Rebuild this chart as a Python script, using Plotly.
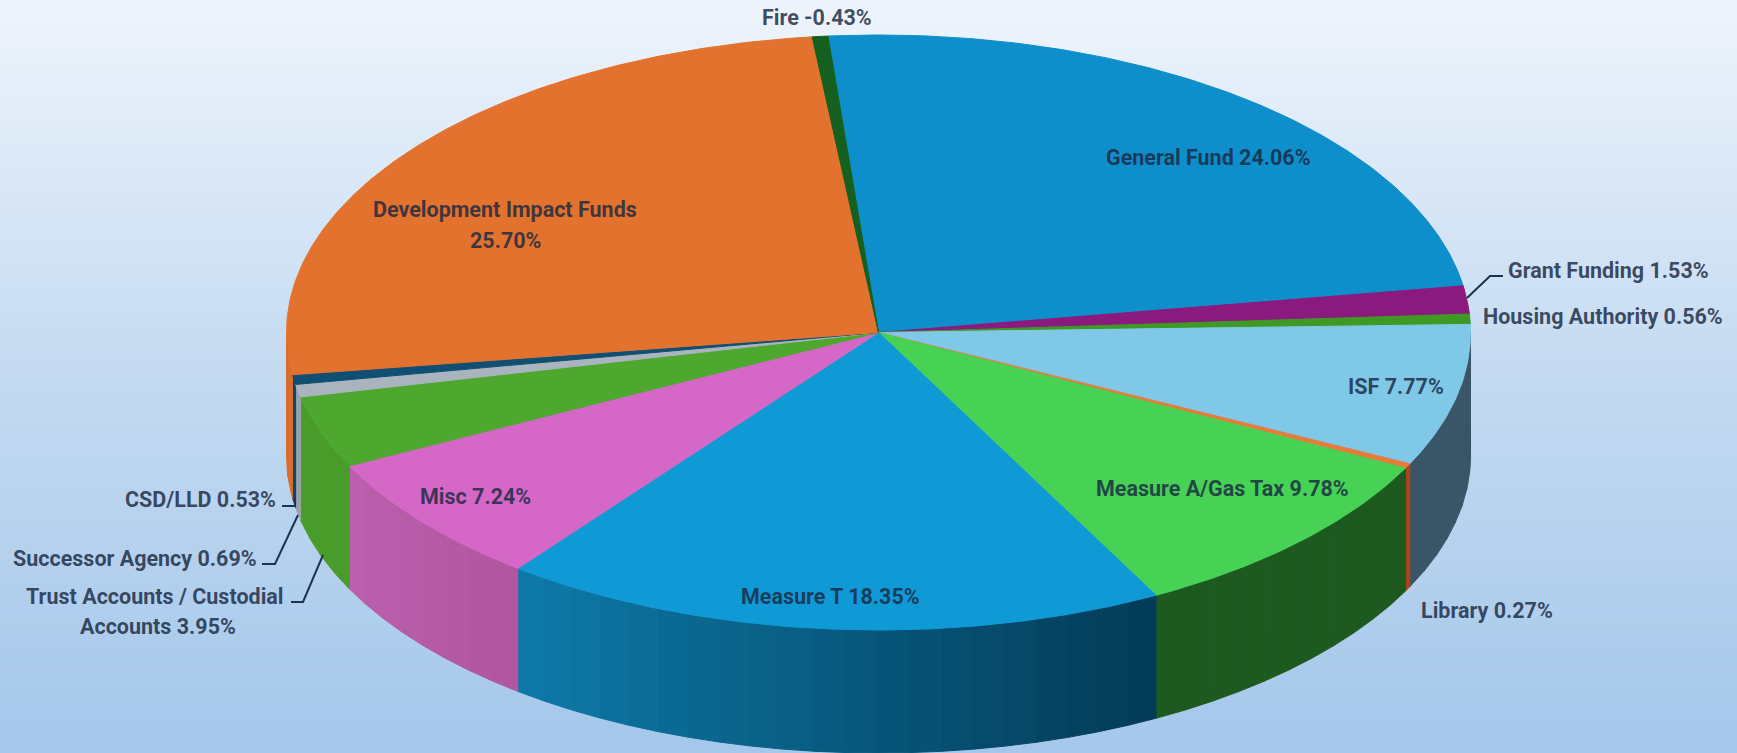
#!/usr/bin/env python3
"""
Fund share pie drawn as a tilted 3D disc with Plotly
"""

import numpy as np
import plotly.graph_objects as go

# Data, clockwise from the top of the pie
funds = ['General Fund', 'Grant Funding', 'Housing Authority', 'ISF', 'Library',
         'Measure A/Gas Tax', 'Measure T', 'Misc',
         'Trust Accounts / Custodial Accounts', 'Successor Agency', 'CSD/LLD',
         'Development Impact Funds', 'Fire']
shares = [24.06, 1.53, 0.56, 7.77, 0.27, 9.78, 18.35, 7.24, 3.95, 0.69, 0.53, 25.70, -0.43]

# Styles
top_colors = ['#0E8FCB', '#8A1A7E', '#3F9A25', '#7FC8E8', '#E57C3A', '#47D155', '#0F9AD6',
              '#D568C6', '#4EA72E', '#A9B4BF', '#114F72', '#E3722F', '#15601F']
wall_left = ['#0E8FCB', '#8A1A7E', '#3F9A25', '#3A5568', '#A8451A', '#1E5A20', '#0E7BAB',
             '#BC60AF', '#4A9C2A', '#98A3AE', '#0F4566', '#D96C2C', '#15601F']
wall_right = ['#0E8FCB', '#8A1A7E', '#3F9A25', '#3A5568', '#A8451A', '#1E5A20', '#033A55',
              '#B0569F', '#4A9C2A', '#98A3AE', '#0F4566', '#D96C2C', '#15601F']
bg_stops = [[0.0, '#EEF4FB'], [0.5, '#C4DAF1'], [1.0, '#A4C7EA']]
text_color = 'rgba(25,40,65,0.82)'
label_font = dict(family='Roboto', size=21.5, weight=700, color=text_color)

# Pie geometry, in screen pixels
width, height = 1737, 753
cx, cy = 878.5, 332.5
rx, ry = 592, 297.5
depth = 123
start_angle = -4.9

# Text placement, one entry per text line
label_lines = ['General Fund 24.06%', 'Grant Funding 1.53%', 'Housing Authority 0.56%', 'ISF 7.77%',
               'Library 0.27%', 'Measure A/Gas Tax 9.78%', 'Measure T 18.35%', 'Misc 7.24%',
               'Trust Accounts / Custodial', 'Accounts 3.95%', 'Successor Agency 0.69%',
               'CSD/LLD 0.53%', 'Development Impact Funds', '25.70%', 'Fire -0.43%']
label_x = [1208, 1608, 1603, 1396, 1487, 1222, 830, 475, 155, 158, 135, 200, 505, 505, 817]
label_y = [157, 270, 316, 386, 610, 488, 596, 496, 596, 626, 558, 499, 209, 240, 17]

# Leader lines
leaders = [
    ([1503, 1490, 1467], [276, 276, 298]),
    ([282, 295, 295], [506, 506, 498]),
    ([262, 275, 298], [564, 564, 515]),
    ([291, 303, 323], [602, 602, 555]),
]


def rim(angle):
    """Point on the top rim, angle in degrees clockwise from the top"""
    rad = np.radians(angle)
    return cx + rx * np.sin(rad), cy - ry * np.cos(rad)


def blend(c1, c2, t):
    a = np.array([int(c1[i:i + 2], 16) for i in (1, 3, 5)])
    b = np.array([int(c2[i:i + 2], 16) for i in (1, 3, 5)])
    r, g, b2 = (a + (b - a) * t).round().astype(int)
    return f'rgb({r},{g},{b2})'


def add_polygon(fig, xs, ys, color):
    fig.add_trace(go.Scatter(x=xs, y=ys, mode='lines', fill='toself', fillcolor=color,
                             line=dict(color=color, width=1), hoverinfo='skip',
                             showlegend=False))


fig = go.Figure()

# Background gradient
fig.add_trace(go.Heatmap(x=[0, width], y=[0, height], z=[[0, 0], [1, 1]], colorscale=bg_stops,
                         zsmooth='best', showscale=False, hoverinfo='skip'))

# Slice angles come from the absolute values, like a spreadsheet pie
sizes = np.abs(shares) / np.abs(shares).sum() * 360
ends = start_angle + np.cumsum(sizes)
starts = ends - sizes

# Front wall, strips for each slice
for i in range(len(funds)):
    a0, a1 = max(starts[i], 90), min(ends[i], 270)
    if a1 <= a0:
        continue
    steps = max(1, int((a1 - a0) / 3))
    edges = np.linspace(a0, a1, steps + 1)
    for k in range(steps):
        arc = np.linspace(edges[k], edges[k + 1], 8)
        xs, ys = rim(arc)
        # a higher angle is further left on the front half
        t = 1 - (k + 0.5) / steps
        add_polygon(fig, list(xs) + list(xs[::-1]) + [xs[0]],
                    list(ys) + list(ys[::-1] + depth) + [ys[0]],
                    blend(wall_left[i], wall_right[i], t))

# Top face
for i in range(len(funds)):
    arc = np.linspace(starts[i], ends[i], max(3, int(sizes[i] * 2)))
    xs, ys = rim(arc)
    add_polygon(fig, [cx] + list(xs) + [cx], [cy] + list(ys) + [cy], top_colors[i])

for lx, ly in leaders:
    fig.add_trace(go.Scatter(x=lx, y=ly, mode='lines', line=dict(color='#1B3350', width=2),
                             hoverinfo='skip', showlegend=False))

for text, x, y in zip(label_lines, label_x, label_y):
    fig.add_annotation(x=x, y=y, text=text, showarrow=False, font=label_font)

fig.update_xaxes(range=[0, width], visible=False, fixedrange=True)
fig.update_yaxes(range=[height, 0], visible=False, fixedrange=True)
fig.update_layout(width=width, height=height, margin=dict(l=0, r=0, t=0, b=0),
                  paper_bgcolor='#C4DAF1', plot_bgcolor='#C4DAF1')

# Page margin off so the chart fills the window
fig.write_html("out.html", config={'displayModeBar': False},
               post_script="document.body.style.margin='0';")
